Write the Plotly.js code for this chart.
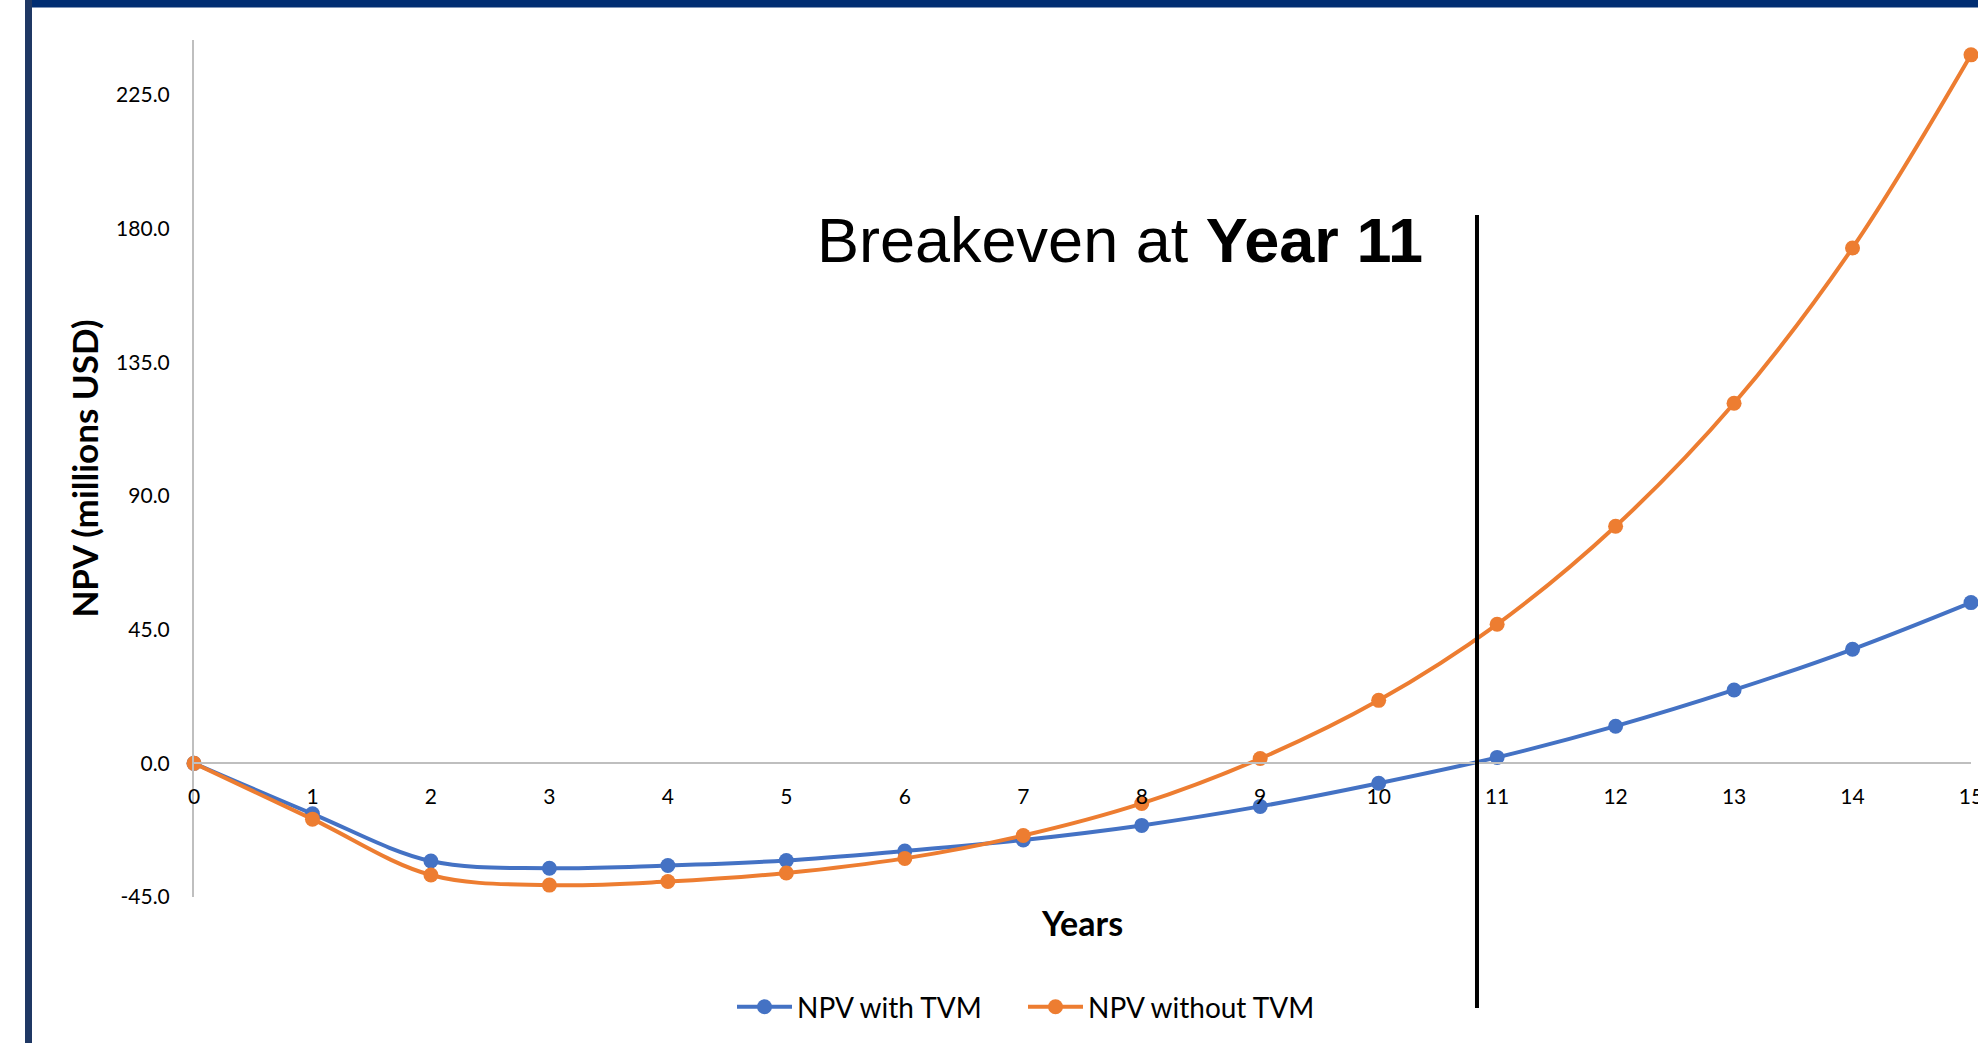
<!DOCTYPE html>
<html><head><meta charset="utf-8">
<script src="https://cdn.plot.ly/plotly-3.0.1.min.js"></script>
<style>html,body{margin:0;padding:0;background:#fff;overflow:hidden}#chart{width:1978px;height:1043px}</style>
</head><body><div id="chart"></div>
<script>
// ---- data ----
const years = [0,1,2,3,4,5,6,7,8,9,10,11,12,13,14,15];
const npvWithTVM = [0,-17.0,-32.9,-35.3,-34.4,-32.7,-29.5,-25.8,-20.9,-14.5,-6.7,2.0,12.5,24.7,38.4,54.1];
const npvWithoutTVM = [0,-18.8,-37.6,-41.0,-39.8,-36.9,-32.0,-24.3,-13.5,1.6,21.2,46.8,79.8,121.2,173.5,238.5];
const seriesNames = ['NPV with TVM','NPV without TVM'];
const seriesColors = ['#4472C4','#ED7D31'];
const yTickVals = [-45,0,45,90,135,180,225];
const yRange = [-45, 243.5];
const xRange = [0, 15];
const breakevenYear = 10.83;
const annotationText = 'Breakeven at <b>Year 11</b>';
const xTitle = 'Years';
const yTitle = 'NPV (millions USD)';

// ---- layout helpers ----
const W = 1978, H = 1043;
const M = {l:194, r:7, t:40, b:146};
const pw = W - M.l - M.r, ph = H - M.t - M.b;
const px = x => (x - M.l) / pw;
const py = y => (H - M.b - y) / ph;

const mkTrace = (ys, i) => ({
  x: years, y: ys, name: seriesNames[i], type: 'scatter', mode: 'lines+markers',
  line: {color: seriesColors[i], width: 4, shape: 'spline', smoothing: 1},
  marker: {color: seriesColors[i], size: 15},
  cliponaxis: false
});

const data = [mkTrace(npvWithTVM,0), mkTrace(npvWithoutTVM,1)];

const layout = {
  width: W, height: H,
  margin: M,
  paper_bgcolor: '#fff', plot_bgcolor: '#fff',
  font: {family: 'Lato, sans-serif', color: '#000'},
  showlegend: true,
  legend: {orientation: 'h', x: px(732), xanchor: 'left', y: py(1007), yanchor: 'middle',
           itemwidth: 55, entrywidth: 221, entrywidthmode: 'pixels',
           font: {family: 'Lato, sans-serif', size: 28, color: '#000'}, bgcolor: 'rgba(0,0,0,0)'},
  xaxis: {
    range: xRange, dtick: 1, tick0: 0, showgrid: false, zeroline: false,
    showline: true, linecolor: '#bfbfbf', linewidth: 2,
    anchor: 'free', position: (0 - yRange[0]) / (yRange[1] - yRange[0]),
    ticks: '', ticklabelstandoff: 14, ticklabeloverflow: 'allow',
    tickfont: {family: 'Lato, sans-serif', size: 21, color: '#000'},
    title: {text: xTitle, standoff: 105, font: {family: 'Lato, sans-serif', size: 34, color: '#000', weight: 'bold'}}
  },
  yaxis: {
    range: yRange, tickvals: yTickVals, ticktext: yTickVals.map(v => v.toFixed(1)),
    showgrid: false, zeroline: false,
    showline: true, linecolor: '#bfbfbf', linewidth: 2,
    ticks: '', ticklabelstandoff: 18,
    tickfont: {family: 'Lato, sans-serif', size: 21, color: '#000'},
    title: {text: yTitle, standoff: 7, font: {family: 'Lato, sans-serif', size: 35, color: '#000', weight: 'bold'}}
  },
  annotations: [{
    text: annotationText, xref: 'paper', yref: 'paper',
    x: px(1120), y: py(240), xanchor: 'center', yanchor: 'middle', showarrow: false,
    font: {family: 'Liberation Sans, Arial, sans-serif', size: 63, color: '#000'}
  }],
  shapes: [
    {type: 'line', xref: 'x', yref: 'paper', x0: breakevenYear, x1: breakevenYear, y0: py(1008), y1: py(215),
     line: {color: '#000', width: 4}},
    {type: 'rect', xref: 'paper', yref: 'paper', x0: px(25), x1: px(32), y0: py(H), y1: py(0),
     fillcolor: '#1F3864', line: {width: 0}, layer: 'below'},
    {type: 'rect', xref: 'paper', yref: 'paper', x0: px(32), x1: px(W), y0: py(7.5), y1: py(0),
     fillcolor: '#002D72', line: {width: 0}, layer: 'below'}
  ]
};

Plotly.newPlot('chart', data, layout, {displayModeBar: false, staticPlot: true});
</script>
</body></html>
